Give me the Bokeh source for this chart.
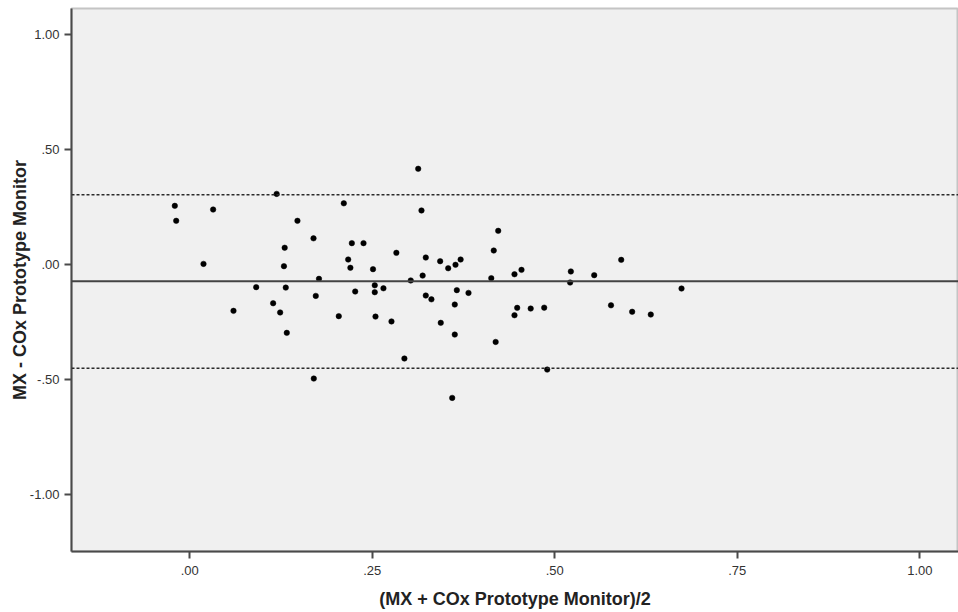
from bokeh.plotting import figure
from bokeh.models import Range1d, FixedTicker, Span
from bokeh.embed import file_html
from bokeh.resources import INLINE

# Bland-Altman data: mean of two methods (x) and their difference (y)
mean_vals = [
    -0.0205, -0.0186, 0.032, 0.0188, 0.119, 0.211, 0.1475, 0.1695, 0.130, 0.222,
    0.238, 0.283, 0.217, 0.220, 0.251, 0.129, 0.177, 0.091, 0.1315, 0.1726,
    0.2266, 0.2534, 0.2534, 0.2653, 0.1142, 0.0599, 0.1238, 0.1329, 0.2041, 0.2544,
    0.2763, 0.1699, 0.3129, 0.3174, 0.4225, 0.3233, 0.343, 0.4164, 0.354, 0.364,
    0.371, 0.319, 0.413, 0.4448, 0.4544, 0.3027, 0.3233, 0.331, 0.3658, 0.3818,
    0.363, 0.3438, 0.4448, 0.4485, 0.467, 0.4855, 0.363, 0.419, 0.294, 0.4896,
    0.3595, 0.522, 0.521, 0.554, 0.591, 0.6736, 0.577, 0.606, 0.6315,
]
diff_vals = [
    0.254, 0.189, 0.238, 0.002, 0.306, 0.265, 0.189, 0.113, 0.072, 0.092,
    0.092, 0.050, 0.021, -0.015, -0.021, -0.008, -0.063, -0.099, -0.101, -0.137,
    -0.118, -0.091, -0.121, -0.104, -0.169, -0.202, -0.209, -0.2975, -0.225, -0.227,
    -0.248, -0.496, 0.415, 0.234, 0.1455, 0.0295, 0.0135, 0.060, -0.017, -0.002,
    0.021, -0.049, -0.060, -0.043, -0.024, -0.070, -0.1355, -0.152, -0.112, -0.124,
    -0.1746, -0.254, -0.221, -0.189, -0.192, -0.188, -0.305, -0.337, -0.409, -0.457,
    -0.580, -0.031, -0.079, -0.047, 0.0195, -0.105, -0.178, -0.206, -0.218,
]
mean_diff = -0.073
upper_loa = 0.302
lower_loa = -0.451

x_ticks = [0.0, 0.25, 0.5, 0.75, 1.0]
x_tick_labels = [".00", ".25", ".50", ".75", "1.00"]
y_ticks = [-1.0, -0.5, 0.0, 0.5, 1.0]
y_tick_labels = ["-1.00", "-.50", ".00", ".50", "1.00"]

FONT = "Liberation Sans"

p = figure(width=958, height=612, output_backend="svg", toolbar_location=None,
           x_range=Range1d(-0.162, 1.053), y_range=Range1d(-1.247, 1.111),
           min_border_left=71, min_border_right=0, min_border_top=8,
           min_border_bottom=61)

p.background_fill_color = "#f0f0f0"
p.border_fill_color = "white"
p.outline_line_color = "#c4c4c4"
p.outline_line_width = 2
p.xgrid.visible = False
p.ygrid.visible = False

p.xaxis.ticker = FixedTicker(ticks=x_ticks)
p.xaxis.major_label_overrides = dict(zip(x_ticks, x_tick_labels))
p.yaxis.ticker = FixedTicker(ticks=y_ticks)
p.yaxis.major_label_overrides = dict(zip(y_ticks, y_tick_labels))

for ax in (p.xaxis, p.yaxis):
    ax.axis_line_color = "#4a4a4a"
    ax.axis_line_width = 2
    ax.major_tick_line_color = "#4a4a4a"
    ax.major_tick_line_width = 2
    ax.major_tick_in = 0
    ax.major_tick_out = 7
    ax.minor_tick_line_color = None
    ax.major_label_text_font = FONT
    ax.major_label_text_font_size = "13px"
    ax.major_label_text_color = "#333333"
    ax.axis_label_text_font = FONT
    ax.axis_label_text_font_size = "18px"
    ax.axis_label_text_font_style = "bold"
    ax.axis_label_text_color = "#222222"

p.xaxis.axis_label = "(MX + COx Prototype Monitor)/2"
p.yaxis.axis_label = "MX - COx Prototype Monitor"
p.xaxis.major_label_standoff = 7
p.yaxis.major_label_standoff = 5
p.xaxis.axis_label_standoff = 11
p.yaxis.axis_label_standoff = -3

p.add_layout(Span(location=upper_loa, dimension="width", line_color="#2a2a2a",
                  line_width=1.5, line_dash="3 2"))
p.add_layout(Span(location=lower_loa, dimension="width", line_color="#2a2a2a",
                  line_width=1.5, line_dash="3 2"))
p.add_layout(Span(location=mean_diff, dimension="width", line_color="#444444",
                  line_width=2))

p.scatter(mean_vals, diff_vals, size=5.5, marker="circle", fill_color="black",
          line_color="black", line_width=0.5)

open("out.html", "w").write(file_html(p, INLINE))
